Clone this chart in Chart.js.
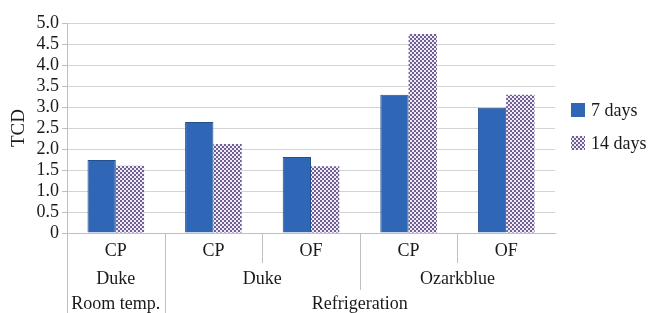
<!DOCTYPE html>
<html>
<head>
<meta charset="utf-8">
<script src="https://cdn.jsdelivr.net/npm/chart.js@4"></script>
<style>
  html, body { margin: 0; padding: 0; background: #fff; }
  canvas { display: block; }
</style>
</head>
<body>
<canvas id="chart" width="651" height="313"></canvas>
<script>
// data
const packages = ["CP", "CP", "OF", "CP", "OF"];
const varieties = ["Duke", "Duke", "Duke", "Ozarkblue", "Ozarkblue"];
const storage = ["Room temp.", "Refrigeration", "Refrigeration", "Refrigeration", "Refrigeration"];
const days7 = [1.74, 2.64, 1.81, 3.29, 2.98];
const days14 = [1.60, 2.12, 1.59, 4.74, 3.29];
const seriesNames = ["7 days", "14 days"];
const yTicks = ["0", "0.5", "1.0", "1.5", "2.0", "2.5", "3.0", "3.5", "4.0", "4.5", "5.0"];

const fontFamily = "'Liberation Serif', 'Times New Roman', serif";
const textColor = "#1a1a1a";
const lineColor = "#bfbfbf";

// checkered fill for the 14 day bars
function makeChecker() {
    const c = document.createElement("canvas");
    c.width = 4;
    c.height = 4;
    const g = c.getContext("2d");
    g.fillStyle = "#efeaf4";
    g.fillRect(0, 0, 4, 4);
    g.fillStyle = "#6f5f93";
    g.fillRect(0, 0, 2, 2);
    g.fillRect(2, 2, 2, 2);
    return g.createPattern(c, "repeat");
}
const checker = makeChecker();
const blue = "#2f66b5";

// draws the nested category labels and the legend
const groupLabels = {
    id: "groupLabels",
    afterDraw(chart) {
        const ctx = chart.ctx;
        const x = chart.scales.x;
        const area = chart.chartArea;
        const bottom = area.bottom;
        const step = x.getPixelForValue(1) - x.getPixelForValue(0);
        const edge = i => x.getPixelForValue(i) - step / 2;

        ctx.save();
        ctx.strokeStyle = lineColor;
        ctx.lineWidth = 1;

        // separator lines under the axis
        for (let i = 0; i <= packages.length; i++) {
            let depth = 30;
            if (i === 0 || (i < packages.length && storage[i] !== storage[i - 1])) {
                depth = 80;
            } else if (i < packages.length && varieties[i] !== varieties[i - 1]) {
                depth = 57;
            } else if (i === packages.length) {
                depth = 0;
            }
            if (depth > 0) {
                const px = Math.round(edge(i)) + 0.5;
                ctx.beginPath();
                ctx.moveTo(px, bottom);
                ctx.lineTo(px, bottom + depth);
                ctx.stroke();
            }
        }

        ctx.fillStyle = textColor;
        ctx.font = "18px " + fontFamily;
        ctx.textAlign = "center";
        ctx.textBaseline = "middle";

        function drawRow(labels, y) {
            let start = 0;
            for (let i = 1; i <= labels.length; i++) {
                if (i === labels.length || labels[i] !== labels[start] ||
                    (labels === varieties && storage[i] !== storage[start])) {
                    const cx = (edge(start) + edge(i)) / 2;
                    ctx.fillText(labels[start], cx, y);
                    start = i;
                }
            }
        }
        drawRow(varieties, bottom + 46);
        drawRow(storage, bottom + 71);

        // legend
        const fills = [blue, checker];
        ctx.textAlign = "left";
        for (let i = 0; i < seriesNames.length; i++) {
            const ly = 110 + i * 33;
            ctx.fillStyle = fills[i];
            ctx.fillRect(571, ly - 7, 14, 14);
            ctx.fillStyle = textColor;
            ctx.fillText(seriesNames[i], 591, ly + 1);
        }
        ctx.restore();
    }
};

new Chart(document.getElementById("chart"), {
    type: "bar",
    data: {
        labels: packages,
        datasets: [
            {
                label: seriesNames[0],
                data: days7,
                backgroundColor: blue,
                borderColor: "#234f8f",
                borderWidth: 1
            },
            {
                label: seriesNames[1],
                data: days14,
                backgroundColor: checker,
                borderWidth: 0
            }
        ]
    },
    options: {
        responsive: false,
        animation: false,
        devicePixelRatio: 1,
        layout: { padding: { top: 23, right: 96, left: 0, bottom: 0 } },
        datasets: {
            bar: { categoryPercentage: 0.58, barPercentage: 1.0 }
        },
        plugins: {
            legend: { display: false },
            tooltip: { enabled: false }
        },
        scales: {
            x: {
                grid: { display: false, drawTicks: false },
                border: { color: lineColor },
                ticks: {
                    color: textColor,
                    font: { family: fontFamily, size: 18 },
                    padding: 7,
                    maxRotation: 0
                },
                afterFit(scale) { scale.height = 80; }
            },
            y: {
                min: 0,
                max: 5,
                grid: { color: "#d4d4d4", drawTicks: true, tickLength: 5, tickColor: lineColor },
                border: { color: lineColor },
                ticks: {
                    stepSize: 0.5,
                    autoSkip: false,
                    color: textColor,
                    font: { family: fontFamily, size: 18 },
                    padding: 3,
                    callback: (v, i) => yTicks[i]
                },
                title: {
                    display: true,
                    text: "TCD",
                    color: textColor,
                    font: { family: fontFamily, size: 19 },
                    padding: { top: 8, bottom: 0 }
                },
                afterFit(scale) { scale.width = 67; }
            }
        }
    },
    plugins: [groupLabels]
});
</script>
</body>
</html>
